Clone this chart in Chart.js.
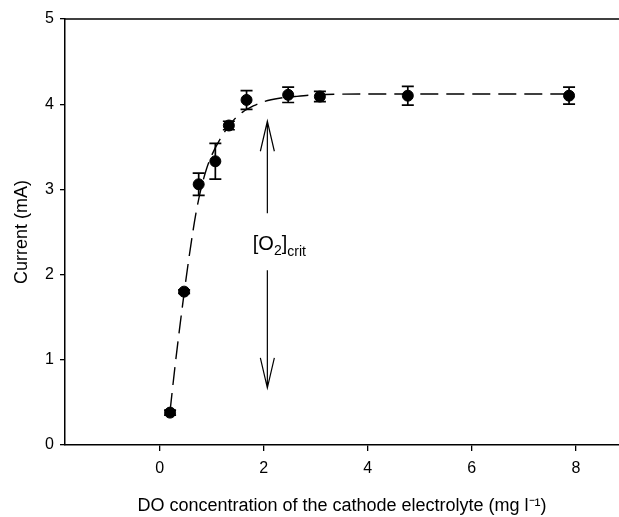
<!DOCTYPE html>
<html><head><meta charset="utf-8">
<script src="https://cdn.jsdelivr.net/npm/chart.js@4/dist/chart.umd.min.js"></script>
<style>html,body{margin:0;padding:0;background:#fff;overflow:hidden}#wrap{position:relative;width:619px;height:517px}</style>
</head><body>
<div id="wrap"><canvas id="c"></canvas></div>
<script>
// measured points
const doConc     = [0.20, 0.47, 0.75, 1.07, 1.33, 1.67, 2.47, 3.08, 4.77, 7.87];
const current    = [0.38, 1.80, 3.06, 3.33, 3.75, 4.05, 4.11, 4.09, 4.10, 4.10];
const currentErr = [0.03, 0.02, 0.13, 0.21, 0.05, 0.11, 0.09, 0.06, 0.11, 0.10];
// fitted dashed curve
const fitX = [0.20, 0.30, 0.40, 0.50, 0.60, 0.70, 0.80, 0.90, 1.00, 1.20, 1.40, 1.60, 1.80, 2.00, 2.30, 2.60, 3.00, 4.00, 6.00, 7.87];
const fitY = [0.40, 0.95, 1.45, 1.92, 2.35, 2.73, 3.02, 3.24, 3.40, 3.63, 3.80, 3.91, 3.98, 4.03, 4.07, 4.09, 4.11, 4.12, 4.12, 4.12];
// axes
const xTicks = [0, 2, 4, 6, 8];
const yTicks = [0, 1, 2, 3, 4, 5];
// annotation ([O2]crit) in data units
const critX = 2.07;
const critUp = [2.72, 3.80];
const critDown = [2.05, 0.67];
const critLabel = { x: 1.79, y: 2.37 };

const FONT = "'Liberation Sans', Arial, sans-serif";

const errorBars = {
  id: 'errorBars',
  afterDatasetsDraw(chart) {
    const ctx = chart.ctx, xs = chart.scales.x, ys = chart.scales.y;
    ctx.save();
    ctx.strokeStyle = '#000';
    ctx.lineWidth = 1.7;
    doConc.forEach((xv, i) => {
      const px = xs.getPixelForValue(xv);
      const y1 = ys.getPixelForValue(current[i] + currentErr[i]);
      const y2 = ys.getPixelForValue(current[i] - currentErr[i]);
      ctx.beginPath();
      ctx.moveTo(px, y1); ctx.lineTo(px, y2);
      ctx.moveTo(px - 6, y1); ctx.lineTo(px + 6, y1);
      ctx.moveTo(px - 6, y2); ctx.lineTo(px + 6, y2);
      ctx.stroke();
    });
    ctx.restore();
  }
};

const frame = {
  id: 'frame',
  afterDraw(chart) {
    const ctx = chart.ctx, a = chart.chartArea, xs = chart.scales.x, ys = chart.scales.y;
    ctx.save();
    ctx.strokeStyle = '#000';
    ctx.lineWidth = 1.5;
    ctx.beginPath();
    ctx.moveTo(a.left, a.top); ctx.lineTo(a.right, a.top);
    ctx.stroke();

    // arrows
    const px = xs.getPixelForValue(critX);
    const drawArrow = (from, to) => {
      const yf = ys.getPixelForValue(from), yt = ys.getPixelForValue(to);
      const dir = yt < yf ? 1 : -1;
      ctx.lineWidth = 1.2;
      ctx.beginPath();
      ctx.moveTo(px, yf); ctx.lineTo(px, yt);
      ctx.moveTo(px - 7, yt + dir * 30); ctx.lineTo(px, yt); ctx.lineTo(px + 7, yt + dir * 30);
      ctx.stroke();
    };
    drawArrow(critUp[0], critUp[1]);
    drawArrow(critDown[0], critDown[1]);

    // label [O2]crit
    let tx = xs.getPixelForValue(critLabel.x);
    const ty = ys.getPixelForValue(critLabel.y);
    ctx.fillStyle = '#000';
    ctx.textBaseline = 'alphabetic';
    ctx.textAlign = 'left';
    const parts = [['[O', 20, 0], ['2', 14, 5], [']', 20, 0], ['crit', 14, 6]];
    parts.forEach(([t, s, dy]) => {
      ctx.font = s + 'px ' + FONT;
      ctx.fillText(t, tx, ty + 7 + dy);
      tx += ctx.measureText(t).width;
    });
    ctx.restore();
  }
};

new Chart(document.getElementById('c'), {
  data: {
    datasets: [
      {
        type: 'line',
        data: fitX.map((x, i) => ({ x, y: fitY[i] })),
        borderColor: '#000',
        borderWidth: 1.4,
        borderDash: [18, 8],
        pointRadius: 0,
        cubicInterpolationMode: 'monotone',
        fill: false
      },
      {
        type: 'scatter',
        data: doConc.map((x, i) => ({ x, y: current[i] })),
        backgroundColor: '#000',
        borderColor: '#000',
        pointRadius: 5.5,
        pointHoverRadius: 5.5
      }
    ]
  },
  options: {
    responsive: true,
    maintainAspectRatio: false,
    animation: false,
    events: [],
    layout: { autoPadding: false, padding: { top: 19, right: 0, left: 0, bottom: 0 } },
    plugins: { legend: { display: false }, tooltip: { enabled: false } },
    scales: {
      x: {
        type: 'linear',
        min: -1.82, max: 8.83,
        afterBuildTicks: s => { s.ticks = xTicks.map(v => ({ value: v })); },
        afterFit: s => { s.height = 72; s.paddingRight = 0; s.paddingLeft = 0; },
        grid: { drawOnChartArea: false, color: '#000', tickLength: 6, lineWidth: 1.3 },
        border: { color: '#000', width: 1.5 },
        ticks: { color: '#000', font: { family: FONT, size: 16 }, padding: 8, maxRotation: 0 },
        title: { display: true, text: 'DO concentration of the cathode electrolyte (mg l\u207B\u00B9)', color: '#000', font: { family: FONT, size: 18 }, padding: { top: 0, bottom: 0 } }
      },
      y: {
        type: 'linear',
        min: 0, max: 5,
        afterBuildTicks: s => { s.ticks = yTicks.map(v => ({ value: v })); },
        afterFit: s => { s.width = 65; },
        grid: { drawOnChartArea: false, color: '#000', tickLength: 5, lineWidth: 1.3 },
        border: { color: '#000', width: 1.5 },
        ticks: { color: '#000', font: { family: FONT, size: 16 }, padding: 6 },
        title: { display: true, text: 'Current (mA)', color: '#000', font: { family: FONT, size: 18 }, padding: { top: 11, bottom: 0 } }
      }
    }
  },
  plugins: [errorBars, frame]
});
</script>
</body></html>
